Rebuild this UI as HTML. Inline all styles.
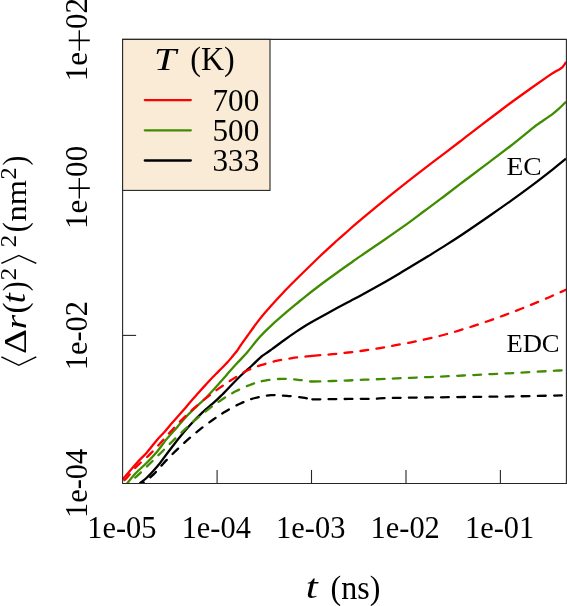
<!DOCTYPE html>
<html><head><meta charset="utf-8"><title>MSD plot</title>
<style>html,body{margin:0;padding:0;background:#fff}svg{display:block}</style></head>
<body>
<svg width="567" height="606" viewBox="0 0 567 606">
<rect width="567" height="606" fill="#fff"/>
<defs><clipPath id="pc"><rect x="122.6" y="39.4" width="443.79999999999995" height="444.05"/></clipPath></defs>
<g clip-path="url(#pc)" fill="none" stroke-linejoin="round">
<path d="M139.6,483.2C140.8,482.3 143.6,480.7 146.5,478.0C149.4,475.3 154.0,470.3 157.0,466.8C160.0,463.3 161.7,460.7 164.4,457.1C167.1,453.6 170.5,449.0 173.2,445.5C175.9,442.0 177.4,439.9 180.5,436.2C183.6,432.5 187.9,427.4 191.5,423.5C195.1,419.6 198.5,416.1 202.0,412.8C205.5,409.5 209.4,406.5 212.6,403.7C215.8,400.9 217.8,399.1 220.9,395.9C224.1,392.8 228.0,388.6 231.5,385.0C235.0,381.4 238.7,377.6 242.0,374.5C245.3,371.3 248.4,368.9 251.5,366.0C254.6,363.2 258.2,359.4 260.6,357.3C263.0,355.2 264.1,354.8 266.0,353.4C267.9,352.0 268.9,351.3 272.0,349.1C275.1,346.9 280.3,342.9 284.4,340.0C288.5,337.0 293.3,333.7 296.7,331.4C300.1,329.0 302.6,327.4 305.0,325.9C307.4,324.4 309.1,323.5 311.2,322.3C313.3,321.1 313.3,321.0 317.6,318.7C321.9,316.3 331.6,311.0 337.0,308.1C342.4,305.2 346.0,303.3 350.0,301.2C354.0,299.0 355.8,298.2 361.2,295.2C366.6,292.3 375.2,287.5 382.3,283.5C389.4,279.5 396.4,275.3 403.5,271.1C410.6,266.9 417.6,262.6 424.7,258.3C431.8,254.0 439.9,248.8 445.8,245.1C451.7,241.4 456.3,238.4 460.0,236.0C463.7,233.6 463.3,233.8 468.2,230.5C473.1,227.2 482.2,220.9 489.3,216.0C496.4,211.1 503.4,206.2 510.5,201.1C517.6,196.0 524.7,190.9 531.7,185.6C538.8,180.3 547.1,173.8 552.8,169.3C558.5,164.8 563.8,160.5 566.0,158.7" stroke="#000000" stroke-width="2.3"/>
<path d="M126.9,483.6C128.4,481.8 132.6,476.4 135.9,473.0C139.2,469.6 143.0,466.5 146.5,463.0C150.0,459.5 153.9,455.4 157.0,451.7C160.1,448.1 163.2,443.4 165.0,441.1C166.8,438.8 165.8,439.9 167.6,437.9C169.4,435.9 173.6,431.2 175.6,429.0C177.6,426.8 177.5,426.7 179.3,424.6C181.1,422.6 183.3,419.8 186.2,416.7C189.1,413.6 193.4,409.5 196.7,406.3C200.0,403.1 202.9,400.8 206.2,397.5C209.4,394.2 212.9,390.4 216.2,386.7C219.5,383.0 222.8,379.2 226.2,375.4C229.6,371.5 233.2,367.5 236.7,363.6C240.2,359.7 243.5,356.6 247.3,352.2C251.1,347.8 255.6,341.5 259.7,337.0C263.8,332.4 267.9,328.6 272.0,324.8C276.1,321.0 280.3,317.4 284.4,313.9C288.5,310.4 293.3,306.5 296.7,303.6C300.1,300.8 301.5,299.6 305.0,296.8C308.5,294.0 312.3,291.0 317.6,287.0C322.9,283.0 331.0,277.1 337.0,272.8C343.0,268.4 349.8,263.7 353.8,260.8C357.8,257.9 356.4,258.9 361.2,255.6C365.9,252.3 375.2,246.0 382.3,241.2C389.4,236.3 396.4,231.5 403.5,226.4C410.6,221.4 417.6,216.0 424.7,210.8C431.8,205.6 439.9,199.4 445.8,195.0C451.7,190.5 456.3,186.9 460.0,184.1C463.7,181.3 463.3,181.7 468.2,178.0C473.1,174.3 482.2,167.4 489.3,162.1C496.4,156.8 503.4,151.6 510.5,146.0C517.6,140.5 527.1,132.6 531.7,128.9C536.3,125.2 534.5,126.6 538.0,124.1C541.5,121.6 549.3,116.4 552.8,113.8C556.3,111.2 557.0,110.4 559.2,108.4C561.4,106.4 564.9,102.9 566.0,101.8" stroke="#408c00" stroke-width="2.3"/>
<path d="M122.6,479.5C124.8,476.9 131.9,468.3 135.9,463.9C139.9,459.4 143.0,456.8 146.5,452.9C150.0,448.9 153.9,443.6 157.0,439.9C160.1,436.3 163.1,433.5 165.3,431.0C167.5,428.5 168.6,427.0 170.3,425.0C172.0,423.0 172.9,421.9 175.6,418.9C178.2,415.9 182.7,410.9 186.2,406.9C189.7,402.9 193.5,398.4 196.7,394.8C199.9,391.2 202.2,388.5 205.4,385.1C208.6,381.7 213.0,376.9 215.6,374.3C218.2,371.6 219.1,370.8 220.9,369.0C222.7,367.3 224.4,365.5 226.2,363.6C228.0,361.7 229.8,359.7 231.5,357.6C233.2,355.5 235.1,353.4 236.7,351.3C238.3,349.2 239.2,347.4 241.0,344.8C242.8,342.2 244.2,340.3 247.3,336.0C250.4,331.7 255.6,324.3 259.7,319.1C263.8,313.9 267.9,309.4 272.0,304.8C276.1,300.2 281.1,294.9 284.4,291.4C287.7,287.9 286.3,289.3 291.8,283.8C297.3,278.3 310.1,265.7 317.6,258.5C325.1,251.2 331.6,245.4 337.0,240.5C342.4,235.6 346.0,232.6 350.0,229.0C354.0,225.5 355.8,224.0 361.2,219.4C366.6,214.9 375.2,207.6 382.3,201.8C389.4,196.0 396.4,190.4 403.5,184.8C410.6,179.2 417.6,173.7 424.7,168.3C431.8,162.8 439.9,156.7 445.8,152.3C451.7,147.8 456.3,144.3 460.0,141.5C463.7,138.6 463.3,139.0 468.2,135.2C473.1,131.5 482.2,124.4 489.3,119.0C496.4,113.7 503.4,108.3 510.5,103.0C517.6,97.8 525.4,92.2 531.7,87.7C538.1,83.2 544.4,78.8 548.6,75.9C552.8,73.1 554.8,72.0 557.1,70.6C559.4,69.2 560.8,68.8 562.3,67.4C563.8,65.9 565.4,62.9 566.0,62.0" stroke="#ff0000" stroke-width="2.3"/>
<path d="M142.8,483.2C144.6,481.8 149.7,478.0 153.3,474.6C156.9,471.2 160.5,466.5 164.2,462.6C167.8,458.7 171.4,455.1 175.2,451.4C179.0,447.7 183.2,443.8 187.2,440.2C191.2,436.6 195.2,433.3 199.4,429.9C203.6,426.5 208.6,422.9 212.6,420.0C216.6,417.1 219.1,415.3 223.7,412.6C228.2,409.9 234.7,406.1 239.9,403.7C245.1,401.3 249.8,399.4 255.0,398.0C260.2,396.6 265.7,395.5 271.0,395.1C276.3,394.8 281.7,395.5 287.0,395.9C292.3,396.3 298.8,397.1 302.9,397.7C306.9,398.3 309.9,399.0 311.3,399.3" stroke="#000000" stroke-width="2.3" stroke-dasharray="7.8 8.3" stroke-dashoffset="6.52" stroke-linecap="round"/>
<path d="M311.3,399.3C313.0,399.3 318.2,399.3 321.7,399.3C325.2,399.3 328.8,399.2 332.3,399.1C335.8,399.1 339.4,399.1 342.9,399.0C346.4,399.0 350.0,398.9 353.5,398.9C357.0,398.9 360.6,398.8 364.1,398.8C367.6,398.8 372.2,399.0 374.7,398.9C377.2,398.8 377.1,398.6 378.9,398.4C380.6,398.3 382.4,398.2 385.2,398.1C388.0,398.0 391.7,398.0 395.8,397.9C399.9,397.8 403.4,397.8 410.0,397.7C416.6,397.6 426.3,397.5 435.2,397.4C444.1,397.3 454.0,397.1 463.4,397.0C472.8,396.9 482.3,396.8 491.7,396.7C501.1,396.6 510.5,396.5 519.9,396.3C529.3,396.1 540.4,395.9 548.1,395.7C555.8,395.5 563.0,395.4 566.0,395.3" stroke="#000000" stroke-width="2.3" stroke-dasharray="7.8 8.3" stroke-dashoffset="-1.15" stroke-linecap="round"/>
<path d="M129.0,482.8C130.6,481.4 134.9,477.9 138.5,474.6C142.1,471.3 146.7,466.7 150.5,463.0C154.3,459.3 157.8,455.8 161.5,452.2C165.2,448.6 168.7,445.0 172.5,441.2C176.3,437.4 180.7,433.3 184.6,429.6C188.5,425.9 192.1,422.6 196.2,419.2C200.2,415.8 204.6,412.2 208.9,408.9C213.2,405.6 217.4,402.5 222.0,399.5C226.6,396.5 231.3,393.6 236.2,391.1C241.1,388.6 246.7,386.1 251.5,384.3C256.3,382.6 259.9,381.5 265.0,380.6C270.1,379.7 276.8,378.9 282.3,378.8C287.8,378.7 293.3,379.4 298.1,379.8C302.9,380.2 309.1,381.2 311.3,381.5" stroke="#408c00" stroke-width="2.3" stroke-dasharray="7.8 8.3" stroke-dashoffset="7.94" stroke-linecap="round"/>
<path d="M311.3,381.5C313.0,381.5 318.2,381.5 321.7,381.4C325.2,381.3 328.8,381.1 332.3,381.0C335.8,380.9 339.4,380.7 342.9,380.6C346.4,380.5 350.0,380.4 353.5,380.2C357.0,380.0 360.6,379.8 364.1,379.7C367.6,379.6 371.2,379.4 374.7,379.3C378.2,379.2 381.7,379.0 385.2,378.9C388.7,378.8 391.7,378.6 395.8,378.4C399.9,378.2 403.4,378.1 410.0,377.8C416.6,377.5 426.3,377.2 435.2,376.8C444.1,376.4 454.0,375.9 463.4,375.5C472.8,375.1 482.3,374.6 491.7,374.1C501.1,373.6 510.5,373.2 519.9,372.7C529.3,372.2 541.5,371.5 548.1,371.1C554.7,370.7 556.4,370.7 559.4,370.5C562.4,370.3 564.9,370.2 566.0,370.1" stroke="#408c00" stroke-width="2.3" stroke-dasharray="7.8 8.3" stroke-dashoffset="-1.15" stroke-linecap="round"/>
<path d="M122.6,480.8C123.2,480.4 124.0,480.9 126.3,478.5C128.6,476.1 132.6,470.5 136.4,466.6C140.2,462.7 145.2,459.0 149.1,455.1C153.0,451.3 156.4,447.4 160.0,443.5C163.6,439.6 166.9,435.6 170.7,431.5C174.4,427.4 178.6,423.0 182.5,419.1C186.4,415.2 190.1,411.8 194.1,408.2C198.1,404.6 202.6,400.9 206.7,397.6C210.8,394.3 214.6,391.4 218.9,388.4C223.2,385.4 227.7,382.3 232.3,379.4C236.9,376.5 243.4,372.6 246.3,370.9C249.2,369.2 247.6,370.2 250.0,369.3C252.4,368.4 256.4,366.6 260.8,365.2C265.2,363.8 271.0,362.1 276.2,360.9C281.4,359.7 287.0,358.9 292.1,358.1C297.2,357.4 303.4,356.8 306.6,356.4C309.8,356.0 310.5,356.1 311.3,356.0" stroke="#ff0000" stroke-width="2.3" stroke-dasharray="7.8 8.3" stroke-dashoffset="13.97" stroke-linecap="round"/>
<path d="M311.3,356.0C313.0,355.8 318.2,355.4 321.7,355.1C325.2,354.8 328.8,354.5 332.3,354.2C335.8,353.9 339.4,353.5 342.9,353.1C346.4,352.7 350.0,352.3 353.5,351.9C357.0,351.5 360.6,351.0 364.1,350.5C367.6,350.0 371.2,349.4 374.7,348.9C378.2,348.3 381.7,347.8 385.2,347.2C388.7,346.6 391.7,346.0 395.8,345.2C399.9,344.4 405.8,343.4 410.0,342.6C414.2,341.7 416.9,341.2 421.1,340.3C425.3,339.4 430.5,338.2 435.2,337.1C439.9,335.9 444.6,334.7 449.3,333.4C454.0,332.1 458.7,330.6 463.4,329.2C468.1,327.8 472.8,326.3 477.5,324.7C482.2,323.1 487.0,321.5 491.7,319.8C496.4,318.1 501.1,316.4 505.8,314.7C510.5,312.9 515.2,311.1 519.9,309.3C524.6,307.5 529.3,305.5 534.0,303.6C538.7,301.7 543.9,299.5 548.1,297.7C552.3,295.9 556.4,294.0 559.4,292.7C562.4,291.4 564.9,290.3 566.0,289.8" stroke="#ff0000" stroke-width="2.3" stroke-dasharray="7.8 8.3" stroke-dashoffset="-1.15" stroke-linecap="round"/>
</g>
<g stroke="#262626" stroke-width="1.1" fill="none">
<path d="M122.6,483.45V39.4H566.4V483.45Z"/>
<path d="M217.1,483.45v-13.5"/>
<path d="M311.5,483.45v-13.5"/>
<path d="M406.0,483.45v-13.5"/>
<path d="M500.4,483.45v-13.5"/>
<path d="M122.6,335.4h13.5"/>
</g>
<rect x="122.6" y="39.4" width="147.4" height="151.0" fill="#faebd7" stroke="#262626" stroke-width="1.1"/>
<path d="M144.8,100.1H190.8" stroke="#ff0000" stroke-width="2.3" stroke-linecap="round"/>
<path d="M144.8,130.35H190.8" stroke="#408c00" stroke-width="2.3" stroke-linecap="round"/>
<path d="M144.8,160.5H190.8" stroke="#000000" stroke-width="2.3" stroke-linecap="round"/>
<g font-family="'Liberation Serif', 'DejaVu Serif', serif" font-size="30" font-weight="400" fill="#000">
<text transform="translate(154.05,69.80) scale(1.327,1.021)" font-style="italic">T</text>
<text transform="translate(190.26,70.16) scale(1.069,1.126)">(K)</text>
<text transform="translate(212.52,110.94) scale(1.040,1.027)">700</text>
<text transform="translate(212.52,141.09) scale(1.040,1.027)">500</text>
<text transform="translate(212.52,171.24) scale(1.040,1.027)">333</text>
<text transform="translate(87.21,538.24) scale(1.014,1.027)">1e-05</text>
<text transform="translate(181.66,538.24) scale(1.014,1.027)">1e-04</text>
<text transform="translate(276.11,538.24) scale(1.014,1.027)">1e-03</text>
<text transform="translate(370.56,538.24) scale(1.014,1.027)">1e-02</text>
<text transform="translate(465.01,538.24) scale(1.014,1.027)">1e-01</text>
<text transform="translate(86.64,517.99) rotate(-90) scale(1.014,1.047)">1e-04</text>
<text transform="translate(86.64,370.29) rotate(-90) scale(1.014,1.047)">1e-02</text>
<text transform="translate(86.64,228.93) rotate(-90) scale(1.029,1.050)">1e</text>
<text transform="translate(94.67,200.24) rotate(-90) scale(1.541,1.460)" font-family="'Noto Sans CJK JP', 'WenQuanYi Zen Hei', 'DejaVu Sans', sans-serif" font-weight="100">+</text>
<text transform="translate(86.64,176.90) rotate(-90) scale(1.036,1.047)">00</text>
<text transform="translate(86.64,81.13) rotate(-90) scale(1.029,1.050)">1e</text>
<text transform="translate(94.67,52.44) rotate(-90) scale(1.541,1.460)" font-family="'Noto Sans CJK JP', 'WenQuanYi Zen Hei', 'DejaVu Sans', sans-serif" font-weight="100">+</text>
<text transform="translate(86.64,29.10) rotate(-90) scale(1.036,1.047)">02</text>
<text transform="translate(305.64,598.31) scale(1.440,1.147)" font-style="italic">t</text>
<text transform="translate(330.56,598.95) scale(1.068,1.144)">(ns)</text>
<text transform="translate(506.47,175.05) scale(1.103,0.997)" font-size="25">EC</text>
<text transform="translate(506.40,352.46) scale(1.064,0.979)" font-size="25">EDC</text>
<text transform="translate(32.95,383.22) rotate(-90) scale(0.792,1.073)" font-family="'Noto Sans CJK JP', 'WenQuanYi Zen Hei', 'DejaVu Sans', sans-serif" font-weight="200" font-size="36">〈</text>
<text transform="translate(25.70,354.02) rotate(-90) scale(1.294,1.084)">Δ</text>
<text transform="translate(25.70,329.24) rotate(-90) scale(1.229,0.957)" font-style="italic">r</text>
<text transform="translate(26.22,313.59) rotate(-90) scale(1.110,1.133)">(</text>
<text transform="translate(25.42,303.32) rotate(-90) scale(1.213,1.100)" font-style="italic">t</text>
<text transform="translate(26.22,291.17) rotate(-90) scale(0.968,1.133)">)</text>
<text transform="translate(15.60,280.18) rotate(-90) scale(1.176,1.055)" font-size="21">2</text>
<text transform="translate(32.95,265.27) rotate(-90) scale(0.735,1.073)" font-family="'Noto Sans CJK JP', 'WenQuanYi Zen Hei', 'DejaVu Sans', sans-serif" font-weight="200" font-size="36">〉</text>
<text transform="translate(15.60,247.18) rotate(-90) scale(1.176,1.055)" font-size="21">2</text>
<text transform="translate(26.22,232.16) rotate(-90) scale(1.006,1.133)">(</text>
<text transform="translate(25.70,221.51) rotate(-90) scale(1.084,0.957)">nm</text>
<text transform="translate(15.60,179.56) rotate(-90) scale(1.164,1.055)" font-size="21">2</text>
<text transform="translate(26.22,165.47) rotate(-90) scale(0.968,1.133)">)</text>
</g>
</svg>
</body></html>
